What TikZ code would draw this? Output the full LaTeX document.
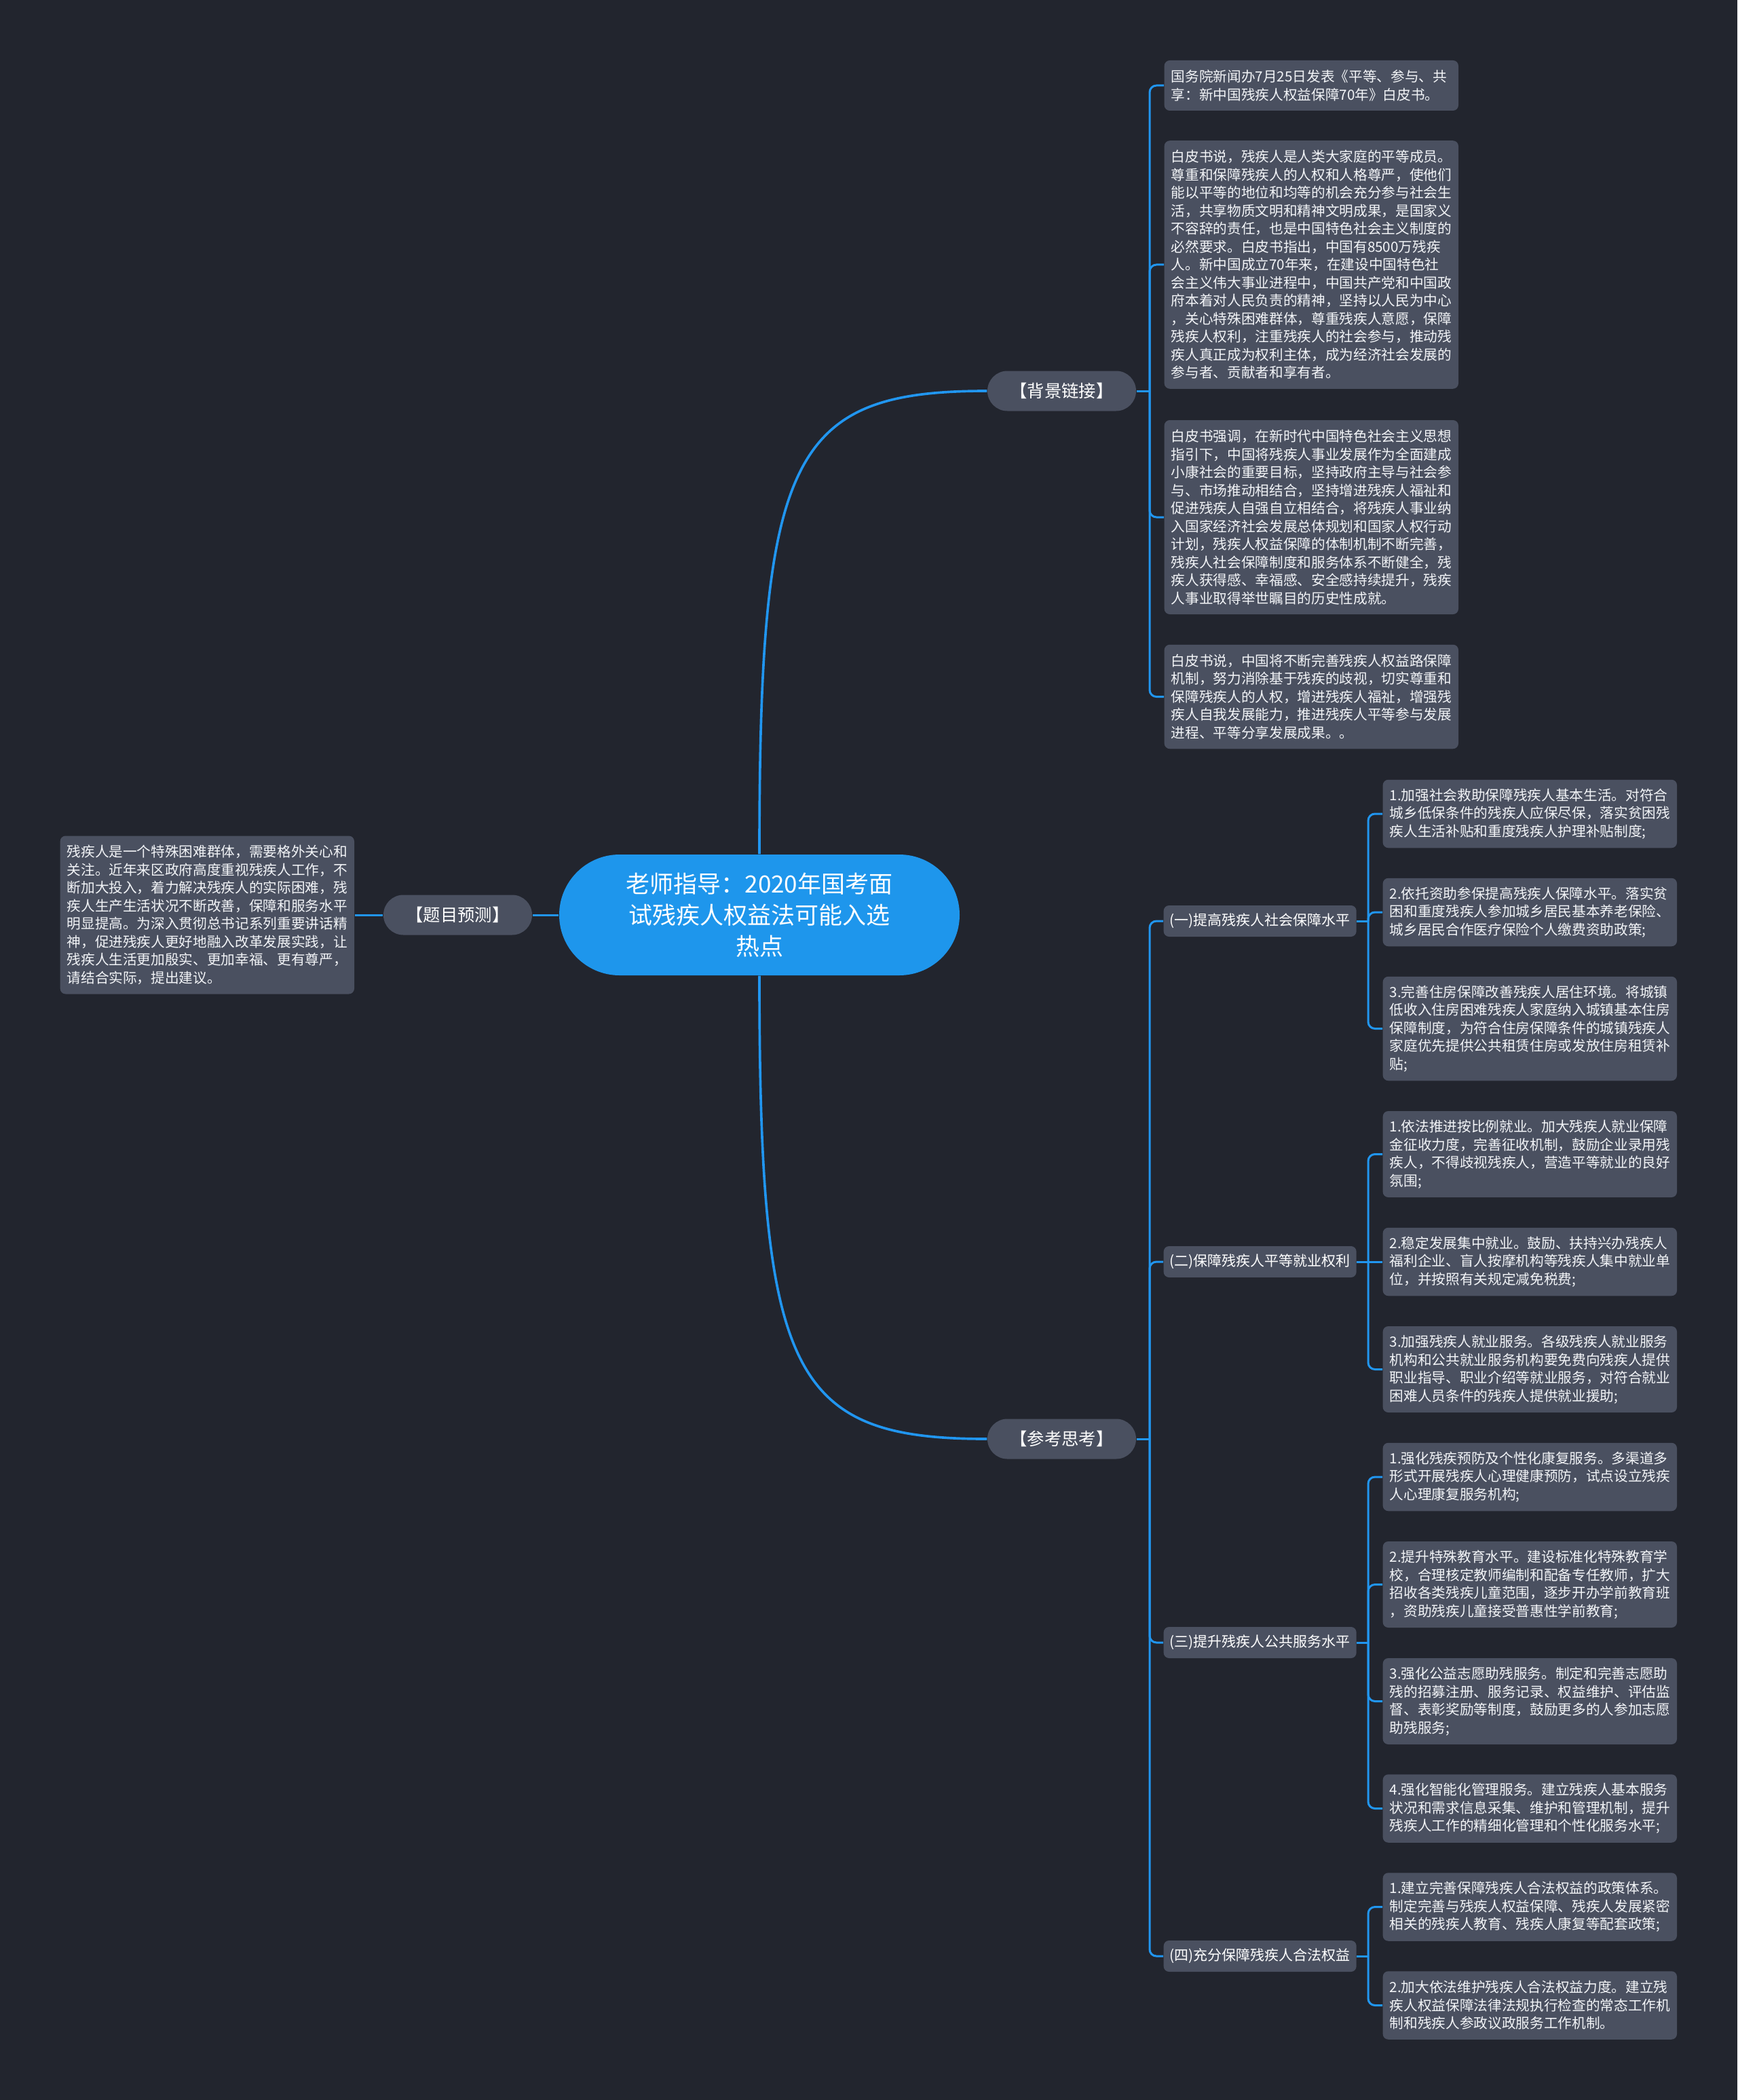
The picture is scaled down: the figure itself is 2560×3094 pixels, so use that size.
\documentclass[tikz,border=0pt]{standalone}
\usepackage{fontspec}
\setmainfont{Noto Sans CJK SC}
\definecolor{bgc}{HTML}{22252E}
\definecolor{boxc}{HTML}{4A5060}
\definecolor{rootc}{HTML}{1E96EC}
\definecolor{linec}{HTML}{2196F0}
\definecolor{txtc}{HTML}{F2F4F7}
\begin{document}
\begin{tikzpicture}[x=0.3pt,y=-0.3pt,
  conn/.style={draw=linec, line width=0.9pt},
  rootconn/.style={draw=linec, line width=1.1pt},
  branch/.style={draw=linec, line width=0.9pt, rounded corners=3pt},
  leaf/.style={fill=boxc, rounded corners=2.4pt, text=txtc, align=left, anchor=west,
    text width=124pt, inner xsep=3pt, inner ysep=1pt,
    minimum height={(21+26.5*#1)*0.3pt}, font=\fontsize{6.2pt}{7.95pt}\selectfont},
  midnode/.style={fill=boxc, rounded corners=2.4pt, text=white, anchor=west,
    minimum width=85.2pt, minimum height=13.8pt, inner xsep=2.5pt, inner ysep=1pt,
    font=\fontsize{6.3pt}{8pt}\selectfont},
  lvlone/.style={fill=boxc, rounded corners=8.8pt, text=white, minimum width=65.7pt,
    minimum height=17.7pt, inner sep=1pt, font=\fontsize{7.6pt}{9pt}\selectfont},
  rootnode/.style={fill=rootc, rounded corners=26.7pt, text=white, align=center,
    minimum width=177pt, minimum height=53.4pt, inner sep=2pt,
    font=\fontsize{10.5pt}{13.8pt}\selectfont}
]
\fill[bgc] (0,0) rectangle (2560,3094);

% root and first level
\node[rootnode] (root) at (1119,1348) {老师指导：2020年国考面\\试残疾人权益法可能入选\\热点};
\node[lvlone] (bj) at (1564.5,576) {【背景链接】};
\node[lvlone] (ck) at (1564.5,2120) {【参考思考】};
\node[lvlone] (tm) at (674.5,1348) {【题目预测】};

% left leaf
\node[leaf=8] (tmx) at (88,1348) {残疾人是一个特殊困难群体，需要格外关心和\\关注。近年来区政府高度重视残疾人工作，不\\断加大投入，着力解决残疾人的实际困难，残\\疾人生产生活状况不断改善，保障和服务水平\\明显提高。为深入贯彻总书记系列重要讲话精\\神，促进残疾人更好地融入改革发展实践，让\\残疾人生活更加殷实、更加幸福、更有尊严，\\请结合实际，提出建议。};

% background leaves
\node[leaf=2] (a1) at (1715,126) {国务院新闻办7月25日发表《平等、参与、共\\享：新中国残疾人权益保障70年》白皮书。};
\node[leaf=13] (a2) at (1715,390) {白皮书说，残疾人是人类大家庭的平等成员。\\尊重和保障残疾人的人权和人格尊严，使他们\\能以平等的地位和均等的机会充分参与社会生\\活，共享物质文明和精神文明成果，是国家义\\不容辞的责任，也是中国特色社会主义制度的\\必然要求。白皮书指出，中国有8500万残疾\\人。新中国成立70年来，在建设中国特色社\\会主义伟大事业进程中，中国共产党和中国政\\府本着对人民负责的精神，坚持以人民为中心\\，关心特殊困难群体，尊重残疾人意愿，保障\\残疾人权利，注重残疾人的社会参与，推动残\\疾人真正成为权利主体，成为经济社会发展的\\参与者、贡献者和享有者。};
\node[leaf=10] (a3) at (1715,762) {白皮书强调，在新时代中国特色社会主义思想\\指引下，中国将残疾人事业发展作为全面建成\\小康社会的重要目标，坚持政府主导与社会参\\与、市场推动相结合，坚持增进残疾人福祉和\\促进残疾人自强自立相结合，将残疾人事业纳\\入国家经济社会发展总体规划和国家人权行动\\计划，残疾人权益保障的体制机制不断完善，\\残疾人社会保障制度和服务体系不断健全，残\\疾人获得感、幸福感、安全感持续提升，残疾\\人事业取得举世瞩目的历史性成就。};
\node[leaf=5] (a4) at (1715,1026.5) {白皮书说，中国将不断完善残疾人权益路保障\\机制，努力消除基于残疾的歧视，切实尊重和\\保障残疾人的人权，增进残疾人福祉，增强残\\疾人自我发展能力，推进残疾人平等参与发展\\进程、平等分享发展成果。。};

% second level
\node[midnode] (m1) at (1714,1357) {(一)提高残疾人社会保障水平};
\node[midnode] (m2) at (1714,1859) {(二)保障残疾人平等就业权利};
\node[midnode] (m3) at (1714,2420) {(三)提升残疾人公共服务水平};
\node[midnode] (m4) at (1714,2882) {(四)充分保障残疾人合法权益};

% leaves of (一)
\node[leaf=3] (b11) at (2037,1199) {1.加强社会救助保障残疾人基本生活。对符合\\城乡低保条件的残疾人应保尽保，落实贫困残\\疾人生活补贴和重度残疾人护理补贴制度;};
\node[leaf=3] (b12) at (2037,1344) {2.依托资助参保提高残疾人保障水平。落实贫\\困和重度残疾人参加城乡居民基本养老保险、\\城乡居民合作医疗保险个人缴费资助政策;};
\node[leaf=5] (b13) at (2037,1515.5) {3.完善住房保障改善残疾人居住环境。将城镇\\低收入住房困难残疾人家庭纳入城镇基本住房\\保障制度，为符合住房保障条件的城镇残疾人\\家庭优先提供公共租赁住房或发放住房租赁补\\贴;};

% leaves of (二)
\node[leaf=4] (b21) at (2037,1700.5) {1.依法推进按比例就业。加大残疾人就业保障\\金征收力度，完善征收机制，鼓励企业录用残\\疾人，不得歧视残疾人，营造平等就业的良好\\氛围;};
\node[leaf=3] (b22) at (2037,1859) {2.稳定发展集中就业。鼓励、扶持兴办残疾人\\福利企业、盲人按摩机构等残疾人集中就业单\\位，并按照有关规定减免税费;};
\node[leaf=4] (b23) at (2037,2017.5) {3.加强残疾人就业服务。各级残疾人就业服务\\机构和公共就业服务机构要免费向残疾人提供\\职业指导、职业介绍等就业服务，对符合就业\\困难人员条件的残疾人提供就业援助;};

% leaves of (三)
\node[leaf=3] (b31) at (2037,2176) {1.强化残疾预防及个性化康复服务。多渠道多\\形式开展残疾人心理健康预防，试点设立残疾\\人心理康复服务机构;};
\node[leaf=4] (b32) at (2037,2334.5) {2.提升特殊教育水平。建设标准化特殊教育学\\校，合理核定教师编制和配备专任教师，扩大\\招收各类残疾儿童范围，逐步开办学前教育班\\，资助残疾儿童接受普惠性学前教育;};
\node[leaf=4] (b33) at (2037,2506.5) {3.强化公益志愿助残服务。制定和完善志愿助\\残的招募注册、服务记录、权益维护、评估监\\督、表彰奖励等制度，鼓励更多的人参加志愿\\助残服务;};
\node[leaf=3] (b34) at (2037,2664.5) {4.强化智能化管理服务。建立残疾人基本服务\\状况和需求信息采集、维护和管理机制，提升\\残疾人工作的精细化管理和个性化服务水平;};

% leaves of (四)
\node[leaf=3] (b41) at (2037,2809.5) {1.建立完善保障残疾人合法权益的政策体系。\\制定完善与残疾人权益保障、残疾人发展紧密\\相关的残疾人教育、残疾人康复等配套政策;};
\node[leaf=3] (b42) at (2037,2954.5) {2.加大依法维护残疾人合法权益力度。建立残\\疾人权益保障法律法规执行检查的常态工作机\\制和残疾人参政议政服务工作机制。};

% connectors from root
\draw[rootconn] (root.north) .. controls (1119,670) and (1165,576) .. (bj.west);
\draw[rootconn] (root.south) .. controls (1119,2026) and (1165,2120) .. (ck.west);
\draw[conn] (root.west) -- (tm.east);
\draw[conn] (tm.west) -- (tmx.east);

% background branch
\coordinate (bjT) at (1694,576);
\draw[conn] (bj.east) -- (bjT);
\foreach \c in {a1,a2,a3,a4} \draw[branch] (bjT) |- (\c.west);

% reference branch
\coordinate (ckT) at (1694,2120);
\draw[conn] (ck.east) -- (ckT);
\foreach \c in {m1,m2,m3,m4} \draw[branch] (ckT) |- (\c.west);

\coordinate (m1T) at (2016,1357);
\draw[conn] (m1.east) -- (m1T);
\foreach \c in {b11,b12,b13} \draw[branch] (m1T) |- (\c.west);

\coordinate (m2T) at (2016,1859);
\draw[conn] (m2.east) -- (m2T);
\foreach \c in {b21,b23} \draw[branch] (m2T) |- (\c.west);
\draw[conn] (m2T) -- (b22.west);

\coordinate (m3T) at (2016,2420);
\draw[conn] (m3.east) -- (m3T);
\foreach \c in {b31,b32,b33,b34} \draw[branch] (m3T) |- (\c.west);

\coordinate (m4T) at (2016,2882);
\draw[conn] (m4.east) -- (m4T);
\foreach \c in {b41,b42} \draw[branch] (m4T) |- (\c.west);
\end{tikzpicture}
\end{document}
